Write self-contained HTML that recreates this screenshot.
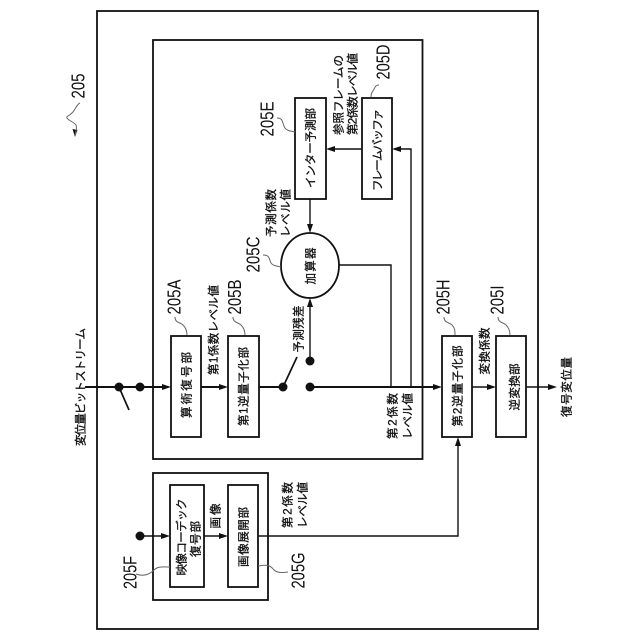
<!DOCTYPE html>
<html><head><meta charset="utf-8">
<style>
html,body{margin:0;padding:0;background:#fff}
svg{display:block}
text{fill:#111}
.j{font-family:"Liberation Sans","Noto Sans CJK JP",sans-serif;font-size:11.5px;text-anchor:middle;stroke:#111;stroke-width:0.3px}
.n{font-family:"Liberation Sans",sans-serif;font-size:18px;text-anchor:middle}
</style></head><body>
<svg width="640" height="640" viewBox="0 0 640 640" xmlns="http://www.w3.org/2000/svg">
<rect width="640" height="640" fill="#fff"/>
<g fill="none" stroke="#111" stroke-width="1.8">
<rect x="97" y="11" width="441" height="618"/>
<rect x="153" y="40" width="269.500" height="419"/>
<rect x="153" y="473" width="115" height="127"/>
<rect x="171" y="336" width="30" height="101"/>
<rect x="228" y="336" width="31" height="101"/>
<rect x="295" y="98" width="31" height="101"/>
<rect x="362" y="98" width="30" height="101"/>
<ellipse cx="310" cy="265.500" rx="29" ry="32.500"/>
<rect x="442" y="336" width="30" height="101"/>
<rect x="496" y="336" width="30" height="101"/>
<rect x="170" y="485" width="34" height="102"/>
<rect x="228" y="485" width="30" height="102"/>
</g>
<g fill="none" stroke="#111" stroke-width="1.4">
<path d="M85 387H165M201 387H222M259 387H283M310 387H436" stroke-width="1.9"/>
<path d="M119 387L129 410M283 387L297 357" stroke-width="1.7"/>
<path d="M310 361V304"/>
<path d="M391 387V265H339"/>
<path d="M411 387V149H398"/>
<path d="M362 149H332"/>
<path d="M310 199V227"/>
<path d="M140 536H164M204 536H222"/>
<path d="M258 536H458V443"/>
<path d="M472 387H490M526 387H551"/>
</g>
<g fill="#111">
<circle cx="119" cy="387" r="4.500"/><circle cx="140" cy="387" r="4.500"/>
<circle cx="283" cy="387" r="4.500"/><circle cx="310" cy="387" r="4.500"/>
<circle cx="310" cy="361" r="4.500"/><circle cx="140" cy="536" r="4.500"/>
<path d="M171 387l-9-3v6z"/><path d="M228 387l-9-3v6z"/>
<path d="M442 387l-9-3v6z"/><path d="M496 387l-9-3v6z"/>
<path d="M557 387l-9-3v6z"/>
<path d="M170 536l-9-3v6z"/><path d="M228 536l-9-3v6z"/>
<path d="M310 298l-3 9h6z"/>
<path d="M310 233l-3-9h6z"/>
<path d="M458 437l-3 9h6z"/>
<path d="M392 149l9-3v6z"/><path d="M326 149l9-3v6z"/>
<path d="M75 137l-2.500-8 5 1z"/>
</g>
<g fill="none" stroke="#666" stroke-width="1">
<path d="M80 103C77 104 75 110 72 113C69 116 66 116 67 118C69 121 74 122 76 125C77 128 76 132 75 135"/>
<path d="M277 118C284 118 282 124 285 128C287 131 291 131 295 132"/>
<path d="M263 255C270 255 269 259 271 263C273 266 277 266 281 267"/>
<path d="M379 85C375 85 375 88 373 91C371 93 371 95 371 97"/>
<path d="M175 317C175 323 180 322 183 325C186 328 187 331 187 335"/>
<path d="M233 317C233 323 238 322 241 325C244 328 245 331 245 335"/>
<path d="M444 317C444 323 449 322 452 325C455 328 455 331 455 335"/>
<path d="M498 317C498 323 503 322 506 325C509 328 510 331 510 335"/>
<path d="M136 574C144 577 150 574 154 570C158 566 164 567 170 567"/>
<path d="M258 566C268 564 271 566 274 570C277 573 282 573 288 572"/>
</g>
<g class="j">
<text transform="translate(84.500,387) rotate(-90)" textLength="118" lengthAdjust="spacing">変位量ビットストリーム</text>
<text transform="translate(190.500,385) rotate(-90)" textLength="66" lengthAdjust="spacing">算術復号部</text>
<text transform="translate(247.500,386.500) rotate(-90)" textLength="79" lengthAdjust="spacing">第1逆量子化部</text>
<text transform="translate(217.500,330) rotate(-90)" textLength="90" lengthAdjust="spacing">第1係数レベル値</text>
<text transform="translate(302.500,329) rotate(-90)" textLength="47" lengthAdjust="spacing">予測残差</text>
<text transform="translate(314.500,148) rotate(-90)" textLength="80" lengthAdjust="spacing">インター予測部</text>
<text transform="translate(381.500,150) rotate(-90)" textLength="82" lengthAdjust="spacing">フレームバッファ</text>
<text transform="translate(342.500,95) rotate(-90)" textLength="80" lengthAdjust="spacing">参照フレームの</text>
<text transform="translate(356.500,94) rotate(-90)" textLength="82" lengthAdjust="spacing">第2係数レベル値</text>
<text transform="translate(275,213) rotate(-90)" textLength="48" lengthAdjust="spacing">予測係数</text>
<text transform="translate(289.500,213) rotate(-90)" textLength="48" lengthAdjust="spacing">レベル値</text>
<text transform="translate(314.500,266) rotate(-90)" textLength="37" lengthAdjust="spacing">加算器</text>
<text transform="translate(396.500,416) rotate(-90)" textLength="46" lengthAdjust="spacing">第2係数</text>
<text transform="translate(411.500,416) rotate(-90)" textLength="46" lengthAdjust="spacing">レベル値</text>
<text transform="translate(461.500,386) rotate(-90)" textLength="81" lengthAdjust="spacing">第2逆量子化部</text>
<text transform="translate(488.500,351) rotate(-90)" textLength="47" lengthAdjust="spacing">変換係数</text>
<text transform="translate(518.500,387) rotate(-90)" textLength="47" lengthAdjust="spacing">逆変換部</text>
<text transform="translate(570.500,387) rotate(-90)" textLength="60" lengthAdjust="spacing">復号変位量</text>
<text transform="translate(185.500,537) rotate(-90)" textLength="77" lengthAdjust="spacing">映像コーデック</text>
<text transform="translate(199.500,539) rotate(-90)" textLength="36" lengthAdjust="spacing">復号部</text>
<text transform="translate(219.500,516) rotate(-90)" textLength="25" lengthAdjust="spacing">画像</text>
<text transform="translate(247.500,537) rotate(-90)" textLength="60" lengthAdjust="spacing">画像展開部</text>
<text transform="translate(291.500,505) rotate(-90)" textLength="46" lengthAdjust="spacing">第2係数</text>
<text transform="translate(306.500,505) rotate(-90)" textLength="46" lengthAdjust="spacing">レベル値</text>
</g>
<g class="n">
<text transform="translate(84.500,86) rotate(-90)" textLength="25" lengthAdjust="spacingAndGlyphs">205</text>
<text transform="translate(180.500,297) rotate(-90)" textLength="35" lengthAdjust="spacingAndGlyphs">205A</text>
<text transform="translate(241,297) rotate(-90)" textLength="35" lengthAdjust="spacingAndGlyphs">205B</text>
<text transform="translate(273.500,119) rotate(-90)" textLength="35" lengthAdjust="spacingAndGlyphs">205E</text>
<text transform="translate(259.500,254.500) rotate(-90)" textLength="36" lengthAdjust="spacingAndGlyphs">205C</text>
<text transform="translate(389.500,62) rotate(-90)" textLength="35" lengthAdjust="spacingAndGlyphs">205D</text>
<text transform="translate(449.500,297) rotate(-90)" textLength="35" lengthAdjust="spacingAndGlyphs">205H</text>
<text transform="translate(503.500,300) rotate(-90)" textLength="29" lengthAdjust="spacingAndGlyphs">205I</text>
<text transform="translate(136.500,572.500) rotate(-90)" textLength="33" lengthAdjust="spacingAndGlyphs">205F</text>
<text transform="translate(304.500,570.500) rotate(-90)" textLength="36" lengthAdjust="spacingAndGlyphs">205G</text>
</g>
</svg>
</body></html>
